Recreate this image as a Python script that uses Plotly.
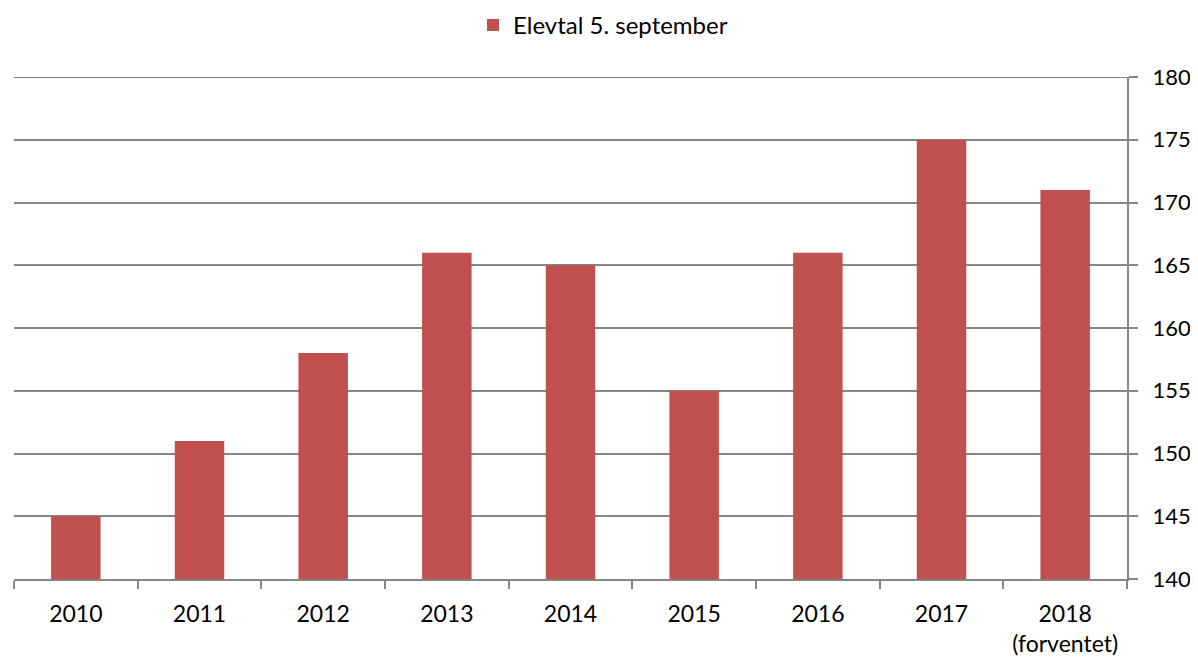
import plotly.graph_objects as go

categories = ["2010", "2011", "2012", "2013", "2014", "2015", "2016", "2017", "2018<br>(forventet)"]
values = [145, 151, 158, 166, 165, 155, 166, 175, 171]
y_ticks = [140, 145, 150, 155, 160, 165, 170, 175, 180]

fig = go.Figure()
fig.add_trace(go.Bar(
    x=categories, y=values, name="Elevtal 5. september",
    marker=dict(color="#C0504D", line=dict(width=0)),
    showlegend=True,
))

font = "Lato, 'Open Sans', sans-serif"
fig.update_layout(
    width=1190, height=651,
    margin=dict(l=6, r=71, t=69, b=80, autoexpand=False),
    paper_bgcolor="white", plot_bgcolor="white",
    bargap=0.6,
    font=dict(family=font, size=23, color="#000000"),
    legend=dict(orientation="h", xref="container", x=0.5, xanchor="center", y=1.103, yanchor="middle",
                font=dict(size=24), itemwidth=30),
    showlegend=True,
)
# top gridline (plotly omits the gridline at the range edge)
fig.add_shape(type="line", xref="paper", yref="y", x0=0, x1=1, y0=y_ticks[-1], y1=y_ticks[-1],
              line=dict(color="#868686", width=2), layer="below")
fig.update_xaxes(
    type="category", tickson="boundaries", ticks="outside", ticklen=8,
    tickcolor="#868686", tickwidth=2, showline=True, linecolor="#868686", linewidth=2,
    showgrid=False, tickfont=dict(size=23), automargin=False, ticklabelstandoff=13,
)
fig.update_yaxes(
    side="right", range=[140, 180], tickvals=y_ticks, ticks="outside", ticklen=9,
    tickcolor="#868686", tickwidth=2, showline=True, linecolor="#868686", linewidth=2,
    showgrid=True, gridcolor="#868686", gridwidth=2, zeroline=False,
    tickfont=dict(size=22), ticklabelstandoff=10, automargin=False,
)
fig.write_html("out.html")
